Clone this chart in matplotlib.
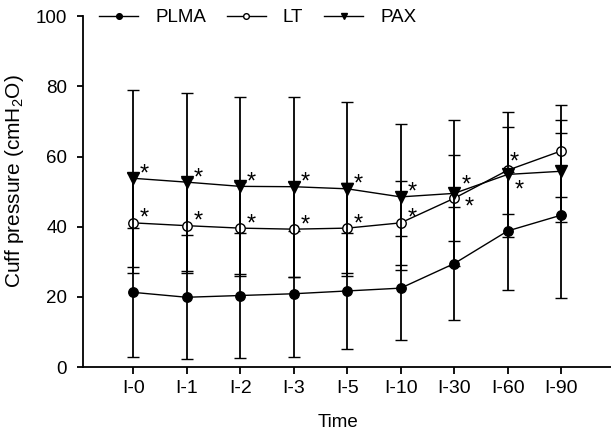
import matplotlib
matplotlib.use("Agg")
import matplotlib.pyplot as plt

plt.rcParams['font.family'] = ['Liberation Sans', 'DejaVu Sans']
plt.rcParams['mathtext.default'] = 'regular'

# time points and group data (mean, SD)
time_labels = ['I-0', 'I-1', 'I-2', 'I-3', 'I-5', 'I-10', 'I-30', 'I-60', 'I-90']

plma_mean = [21.3, 19.9, 20.4, 20.9, 21.7, 22.5, 29.5, 38.8, 43.3]
plma_sd = [18.3, 17.6, 17.7, 18.0, 16.5, 14.9, 16.0, 16.7, 23.5]

lt_mean = [41.1, 40.3, 39.6, 39.3, 39.6, 41.1, 48.1, 56.1, 61.6]
lt_sd = [14.2, 13.6, 13.2, 13.5, 12.9, 12.0, 12.3, 12.4, 13.2]

pax_mean = [53.8, 52.7, 51.5, 51.4, 50.8, 48.5, 49.5, 54.9, 55.8]
pax_sd = [25.2, 25.3, 25.6, 25.7, 24.8, 20.9, 20.8, 17.8, 14.5]

# significance marks (True = asterisk)
lt_sig = [True, True, True, True, True, True, True, True, False]
pax_sig = [True, True, True, True, True, True, True, True, False]

# asterisk offsets in points (baseline), default up-right
STAR_UP = (8, -1.5)
lt_star_off = {6: (11, -11), 7: (4.5, 1)}
pax_star_off = {6: (8.5, 1.2), 7: (8, -16)}

fig = plt.figure(figsize=(6.11, 4.36), dpi=100)
ax = fig.add_axes([0.136, 0.158, 0.864, 0.805])

x = list(range(len(time_labels)))
err_kw = dict(color='black', lw=1.0, elinewidth=1.3, capsize=4.5, capthick=1.3,
              markeredgewidth=1.0, clip_on=False)

h1 = ax.errorbar(x, plma_mean, yerr=plma_sd, fmt='-o', mfc='black', mec='black',
                 markersize=6.8, zorder=3, **err_kw)
h2 = ax.errorbar(x, lt_mean, yerr=lt_sd, fmt='-o', mfc='white', mec='black',
                 markersize=6.8, zorder=4, **err_kw)
h3 = ax.errorbar(x, pax_mean, yerr=pax_sd, fmt='-v', mfc='black', mec='black',
                 markersize=8, zorder=5, **err_kw)

for means, sig, offs in [(lt_mean, lt_sig, lt_star_off), (pax_mean, pax_sig, pax_star_off)]:
    for i, m in enumerate(means):
        if not sig[i]:
            continue
        ax.annotate('*', (i, m), xytext=offs.get(i, STAR_UP), textcoords='offset points',
                    ha='center', va='baseline', fontsize=17)

ax.set_xlim(-0.935, 8.93)
ax.set_ylim(0, 100)
ax.set_yticks([0, 20, 40, 60, 80, 100])
ax.set_xticks(x)
ax.set_xticklabels(time_labels)

for s in ['top', 'right']:
    ax.spines[s].set_visible(False)
for s in ['left', 'bottom']:
    ax.spines[s].set_linewidth(1.3)

ax.tick_params(axis='y', length=4.5, width=1.3, pad=7, labelsize=13.5)
ax.tick_params(axis='x', length=5, width=1.3, pad=4.5, labelsize=14)

ax.set_xlabel('Time', fontsize=13.5, labelpad=12, x=0.483)
ax.set_ylabel('Cuff pressure (cmH$_2$O)', fontsize=15, labelpad=7, y=0.53)

leg = ax.legend([h1.lines[0], h2.lines[0], h3.lines[0]], ['PLMA', 'LT', 'PAX'],
                loc='center left', bbox_to_anchor=(0.03, 0.995), ncol=3, frameon=False,
                fontsize=13.5, markerscale=0.6, handlelength=2.1, handletextpad=0.9,
                columnspacing=1.1, borderpad=0, borderaxespad=0)

fig.savefig('out.png', dpi=100)
